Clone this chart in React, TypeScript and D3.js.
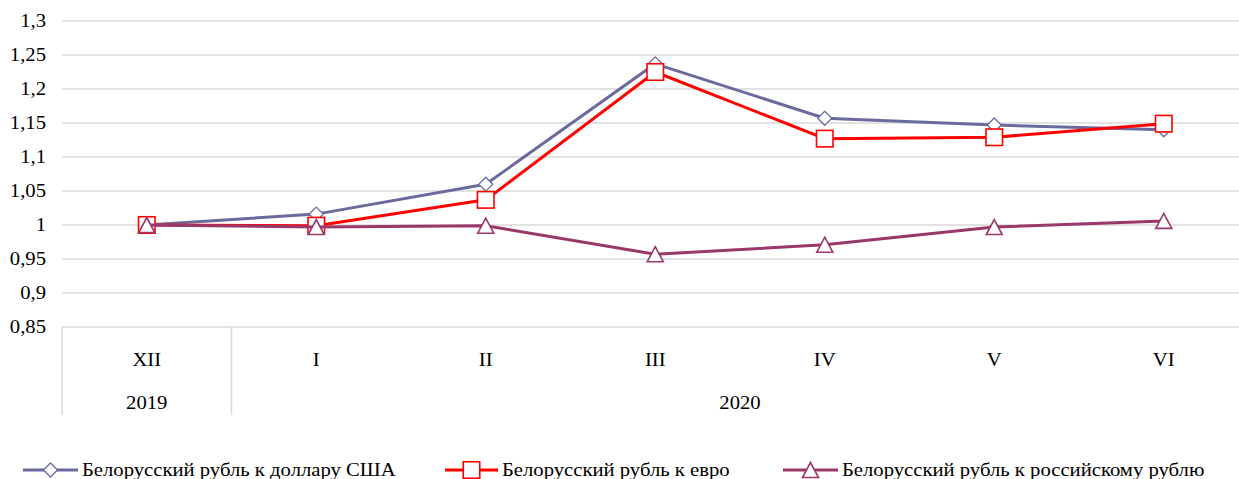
import React from "react";
import * as d3 from "d3";

const months = ["XII", "I", "II", "III", "IV", "V", "VI"];
const years = [
  { label: "2019", from: 0, to: 0 },
  { label: "2020", from: 1, to: 6 },
];
const usd = [1.0, 1.016, 1.06, 1.237, 1.157, 1.147, 1.14];
const eur = [1.0, 0.999, 1.037, 1.225, 1.127, 1.129, 1.149];
const rub = [1.0, 0.997, 0.999, 0.957, 0.971, 0.997, 1.006];
const yTicks = [0.85, 0.9, 0.95, 1, 1.05, 1.1, 1.15, 1.2, 1.25, 1.3];
const seriesNames = [
  "Белорусский рубль к доллару США",
  "Белорусский рубль к евро",
  "Белорусский рубль к российскому рублю",
];

const W = 1239;
const H = 479;
const FONT = "Liberation Serif";
const FS = 18;
const SX = 1.15;

type Shape = "diamond" | "square" | "triangle";

function Marker({ x, y, shape, color }: { x: number; y: number; shape: Shape; color: string }) {
  if (shape === "diamond") {
    const r = 7;
    return (
      <path
        d={`M${x},${y - r}L${x + r},${y}L${x},${y + r}L${x - r},${y}Z`}
        fill="#fff"
        stroke={color}
        strokeWidth={1.3}
      />
    );
  }
  if (shape === "square") {
    const s = 16.5;
    return <rect x={x - s / 2} y={y - s / 2} width={s} height={s} fill="#fff" stroke={color} strokeWidth={1.6} />;
  }
  const w = 16, h = 15;
  return (
    <path
      d={`M${x},${y - h / 2}L${x + w / 2},${y + h / 2}L${x - w / 2},${y + h / 2}Z`}
      fill="#fff"
      stroke={color}
      strokeWidth={1.6}
    />
  );
}

function Label({ x, y, anchor, children }: { x: number; y: number; anchor?: string; children: React.ReactNode }) {
  return (
    <text
      transform={`translate(${x},${y}) scale(${SX},1)`}
      dy="0.35em"
      textAnchor={anchor || "start"}
      fontSize={FS}
      fill="#000"
      style={{ fontFamily: FONT }}
    >
      {children}
    </text>
  );
}

export default function App() {
  const left = 62;
  const band = 169.5;
  const x = d3
    .scaleBand<string>()
    .domain(months)
    .range([left, left + band * months.length])
    .padding(0);
  const cx = (m: string) => (x(m) as number) + x.bandwidth() / 2;
  const y = d3.scaleLinear().domain([0.85, 1.3]).range([327, 21]);

  const series = [
    { name: seriesNames[0], values: usd, color: "#6a6a9f", shape: "diamond" as Shape },
    { name: seriesNames[1], values: eur, color: "#ff0000", shape: "square" as Shape },
    { name: seriesNames[2], values: rub, color: "#99386a", shape: "triangle" as Shape },
  ];

  const line = d3
    .line<number>()
    .x((_, i) => cx(months[i]))
    .y((v) => y(v));

  const axisBottom = 415;
  const legendY = 470;
  const legendItems = [
    { x1: 23, x2: 78, tx: 82 },
    { x1: 445, x2: 498, tx: 502 },
    { x1: 783, x2: 838, tx: 842 },
  ];

  return (
    <svg width={W} height={H} style={{ position: "absolute", left: 0, top: 0, background: "#fff" }}>
      {yTicks.map((t) => (
        <g key={t}>
          <line x1={left} x2={W} y1={y(t)} y2={y(t)} stroke="#d9d9d9" strokeWidth={1.5} />
          <Label x={46} y={y(t)} anchor="end">
            {String(t).replace(".", ",")}
          </Label>
        </g>
      ))}
      <line x1={left} x2={left} y1={y(0.85)} y2={axisBottom} stroke="#d9d9d9" strokeWidth={1.5} />
      {years.slice(1).map((yr) => (
        <line
          key={yr.label}
          x1={x(months[yr.from]) as number}
          x2={x(months[yr.from]) as number}
          y1={y(0.85)}
          y2={axisBottom}
          stroke="#d9d9d9"
          strokeWidth={1.5}
        />
      ))}
      {months.map((m) => (
        <Label key={m} x={cx(m)} y={360} anchor="middle">
          {m}
        </Label>
      ))}
      {years.map((yr) => {
        const a = x(months[yr.from]) as number;
        const b = (x(months[yr.to]) as number) + x.bandwidth();
        return (
          <Label key={yr.label} x={(a + b) / 2} y={403} anchor="middle">
            {yr.label}
          </Label>
        );
      })}
      {series.map((s) => (
        <g key={s.name}>
          <path d={line(s.values) || ""} fill="none" stroke={s.color} strokeWidth={3} strokeLinejoin="round" />
          {s.values.map((v, i) => (
            <Marker key={i} x={cx(months[i])} y={y(v)} shape={s.shape} color={s.color} />
          ))}
        </g>
      ))}
      {series.map((s, i) => {
        const it = legendItems[i];
        return (
          <g key={"lg" + i}>
            <line x1={it.x1} x2={it.x2} y1={legendY} y2={legendY} stroke={s.color} strokeWidth={3} />
            <Marker x={(it.x1 + it.x2) / 2} y={legendY} shape={s.shape} color={s.color} />
            <Label x={it.tx} y={legendY}>
              {s.name}
            </Label>
          </g>
        );
      })}
    </svg>
  );
}
